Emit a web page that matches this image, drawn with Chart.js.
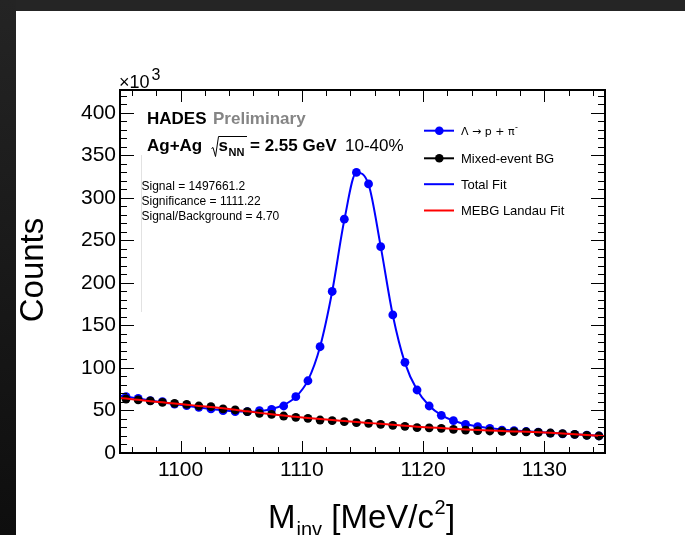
<!DOCTYPE html>
<html>
<head>
<meta charset="utf-8">
<title>Lambda invariant mass</title>
<script src="https://cdn.jsdelivr.net/npm/chart.js@4.4.1/dist/chart.umd.min.js"></script>
<style>
  html, body { margin: 0; padding: 0; background: #fff; }
  #wrap { position: relative; width: 685px; height: 535px; overflow: hidden; }
  #massChart { position: absolute; left: 0; top: 0; }
  #topBar { position: absolute; left: 0; top: 0; width: 685px; height: 11px; background: #252525; }
  #leftBar { position: absolute; left: 0; top: 0; width: 16px; height: 535px; background: linear-gradient(#242424, #0e0e0e); }
</style>
</head>
<body>
<div id="wrap">
  <canvas id="massChart" width="685" height="535"></canvas>
  <div id="topBar"></div>
  <div id="leftBar"></div>
</div>
<script>
// bin centres [MeV/c^2]
const massBins = [
  1095.5, 1096.5, 1097.5, 1098.5, 1099.5, 1100.5, 1101.5, 1102.5, 1103.5, 1104.5,
  1105.5, 1106.5, 1107.5, 1108.5, 1109.5, 1110.5, 1111.5, 1112.5, 1113.5, 1114.5,
  1115.5, 1116.5, 1117.5, 1118.5, 1119.5, 1120.5, 1121.5, 1122.5, 1123.5, 1124.5,
  1125.5, 1126.5, 1127.5, 1128.5, 1129.5, 1130.5, 1131.5, 1132.5, 1133.5, 1134.5
];

// same-event p pi- pairs, counts x 10^3
const signalCounts = [
  66.3, 64.3, 61.6, 60.4, 57.6, 55.7, 53.7, 51.8, 49.8, 48.6,
  48.6, 49.8, 51.4, 55.3, 66.3, 85.0, 125.0, 190.0, 275.0, 330.0,
  316.5, 242.7, 162.4, 106.7, 74.1, 55.3, 44.3, 38.0, 33.7, 31.0,
  29.0, 27.0, 26.3, 25.3, 24.5, 23.4, 22.6, 21.8, 20.9, 20.2
];

// mixed-event background, counts x 10^3
const mixedEventBg = [
  63.5, 62.4, 61.2, 59.6, 58.4, 57.3, 55.3, 54.5, 51.8, 50.6,
  48.6, 46.7, 45.5, 43.5, 42.0, 40.8, 38.8, 38.0, 36.9, 35.7,
  34.9, 33.7, 32.6, 31.4, 29.8, 29.6, 29.0, 27.8, 27.0, 26.3,
  25.9, 25.4, 25.2, 24.8, 24.3, 23.5, 22.7, 22.0, 20.8, 20.0
];

// fit curves, sampled at the range edges and bin centres
const fitMass = [1095, ...massBins, 1135];
const totalFit = [
  67.5,
  66.5, 64.0, 61.7, 59.6, 57.5, 55.5, 53.6, 51.8, 50.2, 49.0,
  48.5, 49.2, 51.6, 56.5, 66.0, 85.5, 125.0, 190.0, 274.0, 330.0,
  316.0, 243.0, 162.0, 106.0, 74.0, 55.5, 44.5, 38.0, 34.0, 31.2,
  29.2, 27.7, 26.5, 25.5, 24.6, 23.7, 22.9, 22.0, 21.1, 20.3,
  19.9
];
const landauFit = [
  64.8,
  64.0, 62.5, 61.0, 59.6, 58.2, 56.8, 55.4, 54.0, 52.5, 50.9,
  49.0, 47.2, 45.6, 44.0, 42.6, 41.2, 39.9, 38.7, 37.6, 36.5,
  35.4, 34.3, 33.2, 32.1, 31.0, 30.1, 29.3, 28.5, 27.7, 27.0,
  26.4, 25.9, 25.4, 25.0, 24.5, 23.8, 23.0, 22.2, 21.2, 20.2,
  19.8
];

const xTickLabels = [1100, 1110, 1120, 1130];
const yTickLabels = [0, 50, 100, 150, 200, 250, 300, 350, 400];

const statLines = ['Signal = 1497661.2', 'Significance = 1111.22', 'Signal/Background = 4.70'];

const FONT = '"Liberation Sans", Arial, Helvetica, sans-serif';
const BLUE = '#0000ff';
const RED = '#ff0000';

function pairs(xs, ys) {
  return xs.map((x, i) => ({ x: x, y: ys[i] }));
}

// ROOT-like frame: box, inward ticks on all four sides, text and legend
const rootFrame = {
  id: 'rootFrame',
  afterDraw(chart) {
    const ctx = chart.ctx;
    const area = chart.chartArea;
    const xs = chart.scales.x;
    const ys = chart.scales.y;

    ctx.save();
    ctx.strokeStyle = '#000';

    // tick marks
    ctx.lineWidth = 1;
    ctx.beginPath();
    for (let v = 1096; v <= 1134; v += 2) {
      const px = Math.round(xs.getPixelForValue(v)) + 0.5;
      const len = v % 10 === 0 ? 12 : 6;
      ctx.moveTo(px, area.bottom); ctx.lineTo(px, area.bottom - len);
      ctx.moveTo(px, area.top); ctx.lineTo(px, area.top + len);
    }
    for (let v = 10; v <= 420; v += 10) {
      const py = Math.round(ys.getPixelForValue(v)) + 0.5;
      const len = v % 50 === 0 ? 14 : 7;
      ctx.moveTo(area.left, py); ctx.lineTo(area.left + len, py);
      ctx.moveTo(area.right, py); ctx.lineTo(area.right - len, py);
    }
    ctx.stroke();

    // frame box
    ctx.lineWidth = 2;
    ctx.strokeRect(area.left, area.top, area.right - area.left, area.bottom - area.top);

    // faint border of the stats box
    ctx.strokeStyle = '#e2e2e2';
    ctx.lineWidth = 1;
    ctx.beginPath();
    ctx.moveTo(141.5, 155); ctx.lineTo(141.5, 312);
    ctx.stroke();

    ctx.fillStyle = '#000';
    ctx.textBaseline = 'alphabetic';
    ctx.textAlign = 'left';

    // axis multiplier
    ctx.font = '18px ' + FONT;
    ctx.fillText('\u00d710', 119, 88);
    ctx.font = '16px ' + FONT;
    ctx.fillText('3', 151.5, 80);

    // experiment label
    ctx.font = 'bold 17px ' + FONT;
    ctx.fillText('HADES', 147, 123.5);
    ctx.fillStyle = '#858585';
    ctx.fillText('Preliminary', 213, 123.5);
    ctx.fillStyle = '#000';
    ctx.fillText('Ag+Ag', 147, 151);

    // sqrt(s_NN) sign
    ctx.lineWidth = 1;
    ctx.strokeStyle = '#000';
    ctx.beginPath();
    ctx.moveTo(211.5, 148.5);
    ctx.lineTo(213, 147.5);
    ctx.lineTo(215.5, 156.5);
    ctx.lineTo(218.5, 136.5);
    ctx.lineTo(247, 136.5);
    ctx.stroke();
    ctx.font = 'bold 17px ' + FONT;
    ctx.fillText('s', 218.5, 151);
    ctx.font = 'bold 11px ' + FONT;
    ctx.fillText('NN', 228.5, 156);
    ctx.font = 'bold 17px ' + FONT;
    ctx.fillText('= 2.55 GeV', 250, 151);
    ctx.font = '17px ' + FONT;
    ctx.fillText('10-40%', 345, 151);

    // fit summary
    ctx.font = '12px ' + FONT;
    statLines.forEach((t, i) => ctx.fillText(t, 141.5, 190.3 + i * 14.7));

    // legend
    const legendRows = [
      { label: '\u039b \u2192 p + \u03c0', color: BLUE, marker: true, y: 130.7, font: '11px "DejaVu Sans", sans-serif' },
      { label: 'Mixed-event BG', color: '#000', marker: true, y: 158.3, font: '13px ' + FONT },
      { label: 'Total Fit', color: BLUE, marker: false, y: 184.2, font: '13px ' + FONT },
      { label: 'MEBG Landau Fit', color: RED, marker: false, y: 210.5, font: '13px ' + FONT }
    ];
    legendRows.forEach((row, i) => {
      ctx.strokeStyle = row.color;
      ctx.lineWidth = 2;
      ctx.beginPath();
      ctx.moveTo(424, row.y); ctx.lineTo(454, row.y);
      ctx.stroke();
      if (row.marker) {
        ctx.fillStyle = row.color;
        ctx.beginPath();
        ctx.arc(439.3, row.y, 4.3, 0, Math.PI * 2);
        ctx.fill();
      }
      ctx.fillStyle = '#000';
      ctx.font = row.font;
      ctx.fillText(row.label, 461, row.y + 4.5);
      if (i === 0) {
        const w = ctx.measureText(row.label).width;
        ctx.font = '8px "DejaVu Sans", sans-serif';
        ctx.fillText('-', 461 + w + 0.5, row.y - 0.5);
      }
    });

    // axis titles
    ctx.fillStyle = '#000';
    ctx.font = '33px ' + FONT;
    ctx.save();
    ctx.translate(43, 270);
    ctx.rotate(-Math.PI / 2);
    ctx.textAlign = 'center';
    ctx.fillText('Counts', 0, 0);
    ctx.restore();

    let tx = 268;
    ctx.font = '33px ' + FONT;
    ctx.fillText('M', tx, 528);
    tx += ctx.measureText('M').width + 1;
    ctx.font = '20px ' + FONT;
    ctx.fillText('inv', tx, 536);
    tx += ctx.measureText('inv').width;
    ctx.font = '33px ' + FONT;
    ctx.fillText(' [MeV/c', tx, 528);
    tx += ctx.measureText(' [MeV/c').width + 0.5;
    ctx.font = '20px ' + FONT;
    ctx.fillText('2', tx, 514);
    tx += ctx.measureText('2').width + 0.5;
    ctx.font = '33px ' + FONT;
    ctx.fillText(']', tx, 528);

    ctx.restore();
  }
};

const chart = new Chart(document.getElementById('massChart'), {
  type: 'scatter',
  data: {
    datasets: [
      {
        label: 'MEBG Landau Fit',
        data: pairs(fitMass, landauFit),
        showLine: true,
        borderColor: RED,
        borderWidth: 2,
        pointRadius: 0,
        cubicInterpolationMode: 'monotone',
        order: 0
      },
      {
        label: 'Mixed-event BG',
        data: pairs(massBins, mixedEventBg),
        showLine: false,
        backgroundColor: '#000',
        borderColor: '#000',
        pointRadius: 4.4,
        pointBorderWidth: 0,
        order: 1
      },
      {
        label: '\u039b \u2192 p + \u03c0-',
        data: pairs(massBins, signalCounts),
        showLine: false,
        backgroundColor: BLUE,
        borderColor: BLUE,
        pointRadius: 4.4,
        pointBorderWidth: 0,
        order: 2
      },
      {
        label: 'Total Fit',
        data: pairs(fitMass, totalFit),
        showLine: true,
        borderColor: BLUE,
        borderWidth: 2,
        pointRadius: 0,
        cubicInterpolationMode: 'monotone',
        order: 3
      }
    ]
  },
  options: {
    responsive: false,
    animation: false,
    layout: { padding: { left: 0, top: 90, right: 80, bottom: 0 } },
    plugins: {
      legend: { display: false },
      tooltip: { enabled: false }
    },
    scales: {
      x: {
        type: 'linear',
        min: 1095,
        max: 1135,
        grid: { display: false, drawTicks: false },
        border: { display: false },
        ticks: {
          color: '#000',
          font: { family: FONT, size: 21 },
          padding: 5,
          maxRotation: 0,
          autoSkip: false,
          callback: v => String(v)
        },
        afterBuildTicks: s => { s.ticks = xTickLabels.map(v => ({ value: v })); },
        afterFit: s => { s.height = 82; }
      },
      y: {
        type: 'linear',
        min: 0,
        max: 427,
        grid: { display: false, drawTicks: false },
        border: { display: false },
        ticks: {
          color: '#000',
          font: { family: FONT, size: 21 },
          padding: 4,
          autoSkip: false,
          callback: v => String(v)
        },
        afterBuildTicks: s => { s.ticks = yTickLabels.map(v => ({ value: v })); },
        afterFit: s => { s.width = 120; }
      }
    }
  },
  plugins: [rootFrame]
});
</script>
</body>
</html>
